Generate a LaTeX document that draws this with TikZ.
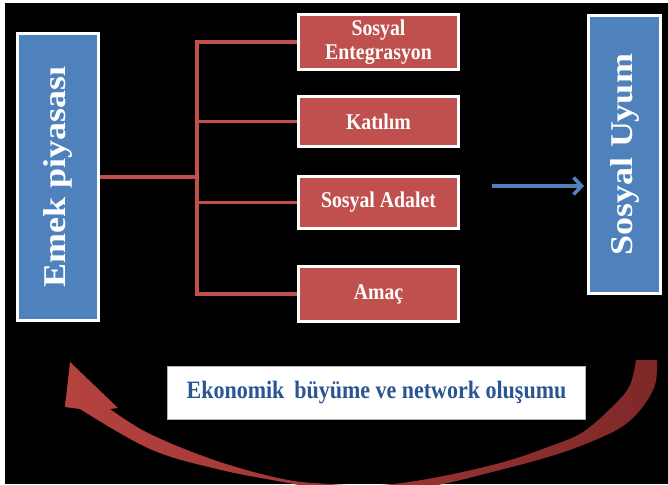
\documentclass[tikz,border=0pt]{standalone}
\usepackage{fontspec}
\setmainfont{Liberation Serif}
\usetikzlibrary{arrows.meta}
\definecolor{boxblue}{HTML}{4F81BD}
\definecolor{boxred}{HTML}{C0504D}
\definecolor{txtblue}{HTML}{2A5595}
\definecolor{arrL}{HTML}{B5423F}
\definecolor{arrR}{HTML}{7F2828}
\newcommand{\hsq}[1]{\scalebox{0.88}[1]{#1}}
\newcommand{\vsq}[1]{\scalebox{1}[0.88]{#1}}
\begin{document}
\begin{tikzpicture}[x=1pt,y=-1pt,
  bigbox/.style={draw=white, line width=3pt, fill=boxblue, text=white, inner sep=0pt,
    font=\bfseries\fontsize{36}{40}\selectfont},
  redbox/.style={draw=white, line width=3pt, fill=boxred, text=white, inner sep=0pt,
    minimum width=160pt, align=center, font=\bfseries\fontsize{22.5}{24}\selectfont},
  ekobox/.style={draw=gray!60, line width=1pt, fill=white, inner sep=0pt, text=txtblue,
    font=\bfseries\fontsize{25}{28}\selectfont},
  redline/.style={boxred, line width=3.6pt},
  blueline/.style={boxblue, line width=3.6pt},
]
\useasboundingbox (0,0) rectangle (668,484);
\fill[white] (0,0) rectangle (668,484);
\fill[black] (5,3) rectangle (668,484);

% main boxes
\node[bigbox, rotate=90, minimum width=287pt, minimum height=81pt] (emek) at (58,177) {\vsq{Emek piyasası}};
\node[bigbox, rotate=90, minimum width=278pt, minimum height=72pt] (uyum) at (624.5,154.5) {\vsq{Sosyal Uyum}};

\node[redbox, minimum height=55pt] (r1) at (378.5,42) {\hsq{Sosyal}\\\hsq{Entegrasyon}};
\node[redbox, minimum height=50pt] (r2) at (378.5,121.5) {\hsq{Katılım}};
\node[redbox, minimum height=52pt] (r3) at (378.5,202.5) {\hsq{Sosyal Adalet}};
\node[redbox, minimum height=55pt] (r4) at (378.5,294) {\hsq{Amaç}};

\node[ekobox, minimum width=418pt, minimum height=53pt] (eko) at (376.5,393) {\hsq{Ekonomik\hspace{0.45em}büyüme ve network oluşumu}};

% red tree connectors
\coordinate (j) at (197,177);
\draw[redline] (emek.south) -- (j);
\draw[redline] (r1.west) -| (j);
\draw[redline] (r4.west) -| (j);
\draw[redline] (r2.west) -- (r2.west -| j);
\draw[redline] (r3.west) -- (r3.west -| j);

% blue arrow
\coordinate (bs) at (492,186);
\draw[blueline, -{Straight Barb[length=8pt,width=17pt]}] (bs) -- ([xshift=-3pt]bs -| uyum.north);

% curved feedback arrow
\begin{scope}
\clip (0,0) rectangle (668,484);
\shade[left color=arrL, right color=arrR]
 (636,360) -- (657,360)
 -- plot[smooth, tension=0.6] coordinates {(657,360) (655,385) (641,409) (620,428) (583,445) (548,457) (500,470) (433,486) (380,492) (330,490) (283,482) (217,469) (150,449) (80,409)}
 -- (65,407) -- (70,362) -- (118,408)
 -- plot[smooth, tension=0.6] coordinates {(110,409) (150,434) (217,461) (283,479) (330,484) (380,485) (433,478) (500,463) (548,447) (583,432) (615,404) (630,385) (636,360)}
 -- cycle;
\end{scope}
\end{tikzpicture}
\end{document}
